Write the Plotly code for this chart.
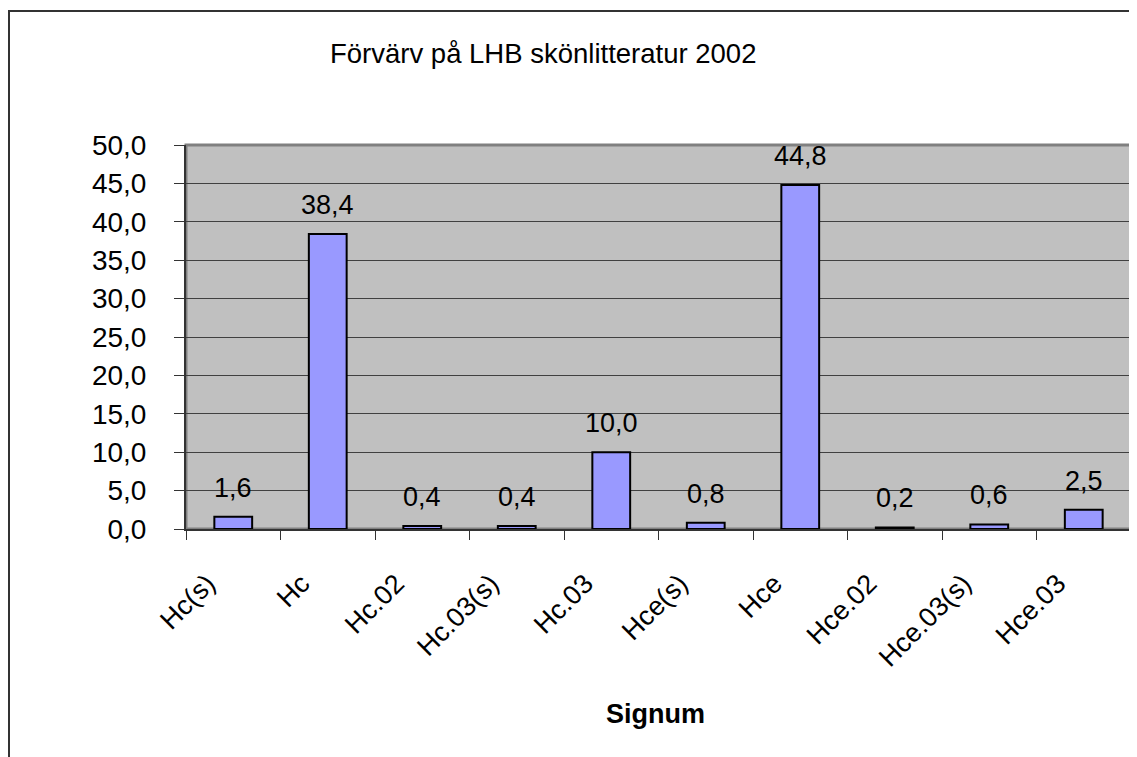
import plotly.graph_objects as go

categories = ["Hc(s)", "Hc", "Hc.02", "Hc.03(s)", "Hc.03", "Hce(s)", "Hce", "Hce.02", "Hce.03(s)", "Hce.03"]
values = [1.6, 38.4, 0.4, 0.4, 10.0, 0.8, 44.8, 0.2, 0.6, 2.5]
title_text = "Förvärv på LHB skönlitteratur 2002"
x_title = "Signum"

FONT = "Liberation Sans, Arial, sans-serif"
FS = 27
OFF = 8  # browser body margin
W, H = 1137 - OFF, 757 - OFF
L, R, T = 186 - OFF, 6, 145 - OFF
ph = 384
B = H - T - ph
pw = W - L - R

def px_x(p):
    return (p - OFF - L) / pw

def px_y(p):
    return (T + ph - (p - OFF)) / ph

fig = go.Figure()
fig.add_trace(go.Bar(
    x=categories, y=values,
    marker=dict(color="#9999FF", line=dict(color="#000000", width=2)),
    hoverinfo="x+y",
))

for c, v in zip(categories, values):
    fig.add_annotation(x=c, y=v, text=f"{v:.1f}".replace(".", ","), showarrow=False,
                       yanchor="bottom", yshift=12, font=dict(family=FONT, size=FS, color="#000000"))

fig.add_annotation(xref="paper", yref="paper", x=px_x(543), y=px_y(54), text=title_text,
                   showarrow=False, xanchor="center", yanchor="middle",
                   font=dict(family=FONT, size=FS + 0.5, color="#000000"))
fig.add_annotation(xref="paper", yref="paper", x=px_x(655), y=px_y(714), text=f"<b>{x_title}</b>",
                   showarrow=False, xanchor="center", yanchor="middle",
                   font=dict(family=FONT, size=FS, color="#000000"))

# plot area frame (top/right grey)
fig.add_shape(type="rect", xref="paper", yref="paper", x0=0, x1=1, y0=0, y1=1,
              line=dict(color="#808080", width=3), layer="below")
# outer chart border
fig.add_shape(type="rect", xref="paper", yref="paper", x0=px_x(9), x1=px_x(1160), y0=px_y(780), y1=px_y(11),
              line=dict(color="#333333", width=2))

fig.update_layout(
    width=W, height=H,
    margin=dict(l=L, r=R, t=T, b=B, autoexpand=False),
    paper_bgcolor="#FFFFFF", plot_bgcolor="#C0C0C0",
    bargap=0.6, showlegend=False,
    separators=", ",
    font=dict(family=FONT, size=FS, color="#000000"),
)
fig.update_xaxes(type="category", tickangle=-45, tickson="boundaries", ticks="outside", ticklen=9,
                 tickcolor="#333333", showline=True, linecolor="#333333", linewidth=2,
                 showgrid=False, tickfont=dict(family=FONT, size=FS, color="#000000"),
                 ticklabelstandoff=26, ticklabelshift=-26)
fig.update_yaxes(range=[0, 50], dtick=5, tick0=0, tickformat=".1f", ticks="outside", ticklen=10,
                 tickcolor="#333333", showline=True, linecolor="#333333", linewidth=2,
                 showgrid=True, gridcolor="#404040", gridwidth=1, zeroline=False,
                 tickfont=dict(family=FONT, size=FS + 1, color="#000000"), ticklabelstandoff=22)

fig.write_html("out.html")
